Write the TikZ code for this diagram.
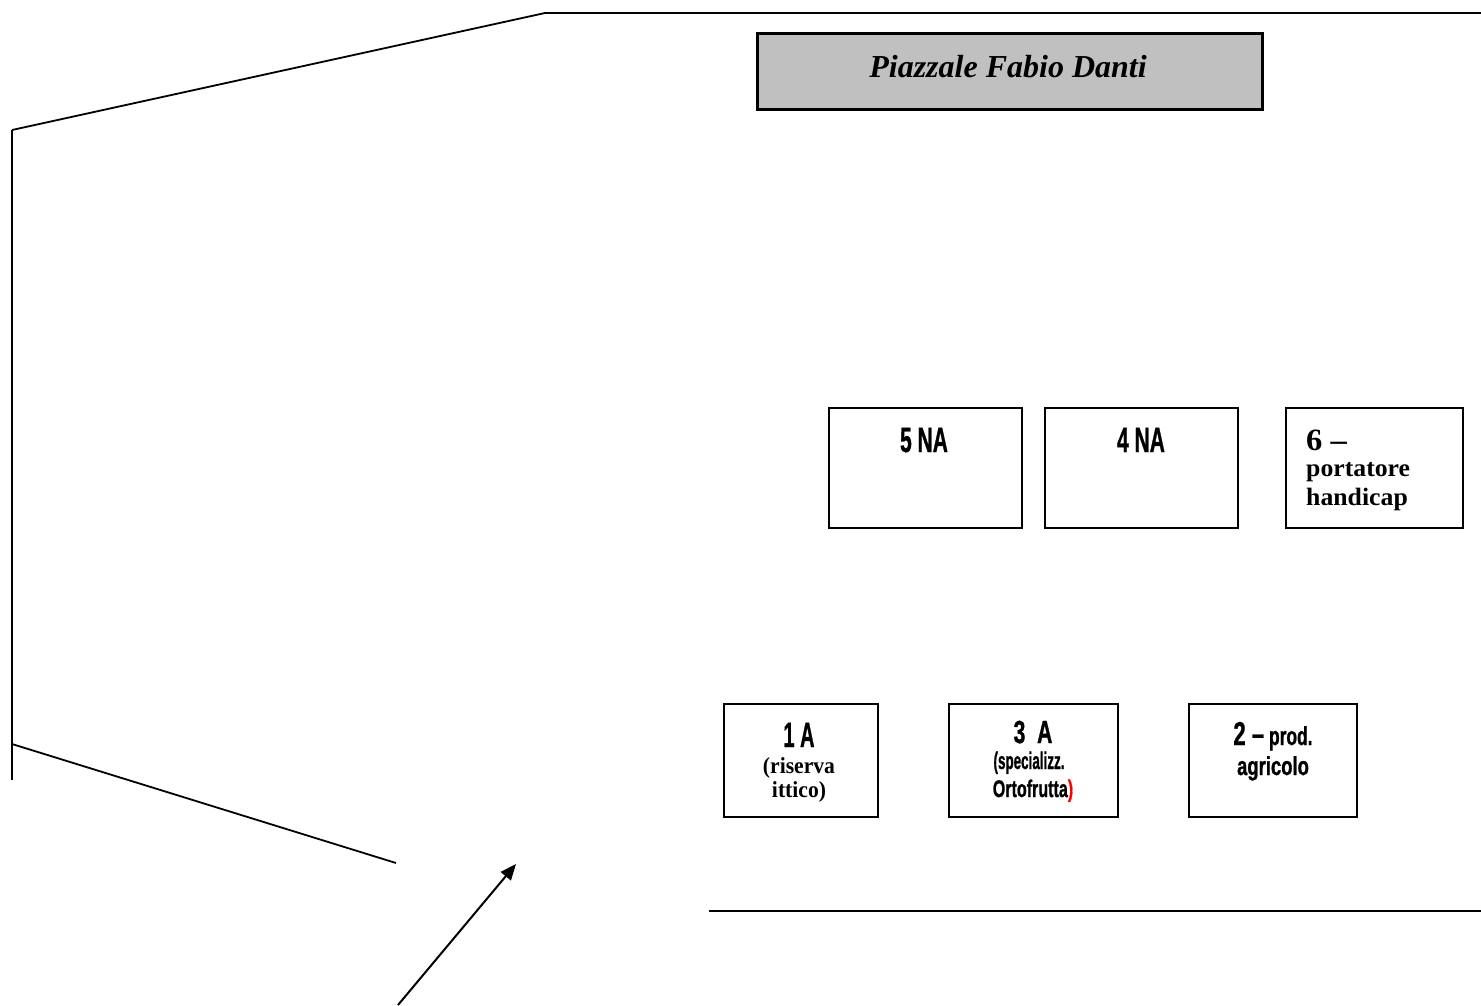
\documentclass[tikz,border=0pt]{standalone}
\usepackage{fontspec}
\usepackage{graphicx}
\setmainfont{Liberation Serif}
\newfontfamily\agency[BoldFeatures={FakeBold=1.2}]{Liberation Sans}
\newcommand\hx[2]{\scalebox{#1}[1]{#2}}
\usetikzlibrary{arrows.meta}
\definecolor{titlegray}{HTML}{C0C0C0}
\begin{document}
\begin{tikzpicture}[x=1pt,y=-1pt,
  wall/.style={line width=1.8pt},
  stall/.style={draw, line width=1.6pt, rectangle, inner sep=0pt, anchor=north west},
  lbl/.style={inner sep=0pt, anchor=base},
  lbll/.style={inner sep=0pt, anchor=base west},
  big/.style={font=\agency\bfseries\fontsize{35}{37}\selectfont},
  small/.style={font=\agency\bfseries\fontsize{26}{28}\selectfont},
  smaller/.style={font=\agency\bfseries\fontsize{24}{26}\selectfont},
  serif/.style={font=\bfseries\fontsize{25}{27}\selectfont},
]
\useasboundingbox (0,0) rectangle (1481,1005);
% outline lines
\coordinate (tl) at (12,130);
\coordinate (tk) at (545,13);
\coordinate (tr) at (1481,13);
\coordinate (lb) at (12,780);
\coordinate (lm) at (12,744);
\coordinate (le) at (396,863);
\coordinate (bl) at (709,911);
\coordinate (br) at (1481,911);
\coordinate (as) at (398,1005);
\coordinate (ae) at (516,864);
\draw[wall] (tl) -- (tk) -- (tr);
\draw[wall] (tl) -- (lb);
\draw[wall] (lm) -- (le);
\draw[wall] (bl) -- (br);
\draw[line width=2pt, -{Triangle[length=16pt,width=13pt]}] (as) -- (ae);
% title
\node[draw, line width=2.8pt, fill=titlegray, minimum width=505pt, minimum height=76pt, inner sep=0pt, anchor=north west] (title) at (756,32) {};
\node[lbl, font=\fontsize{32}{36}\selectfont\bfseries\itshape] (titletext) at (1008,77) {Piazzale Fabio Danti};
% upper boxes
\node[stall, minimum width=193pt, minimum height=120pt] (b5) at (828,407) {};
\node[stall, minimum width=193pt, minimum height=120pt] (b4) at (1044,407) {};
\node[stall, minimum width=177pt, minimum height=120pt] (b6) at (1285,407) {};
\node[lbl, big] (t5) at (924,452) {\hx{0.6}{5 NA}};
\node[lbl, big] (t4) at (1141,452) {\hx{0.6}{4 NA}};
\node[lbll, font=\bfseries\fontsize{31}{33}\selectfont] (t6a) at (1306,450) {\hx{1.05}{6 –}};
\node[lbll, serif] (t6b) at (1306,476) {\hx{1.03}{portatore}};
\node[lbll, serif] (t6c) at (1306,505) {\hx{1.03}{handicap}};
% lower boxes
\node[stall, minimum width=154pt, minimum height=113pt] (b1) at (723,703) {};
\node[stall, minimum width=169pt, minimum height=113pt] (b3) at (948,703) {};
\node[stall, minimum width=168pt, minimum height=113pt] (b2) at (1188,703) {};
\node[lbl, big] (t1a) at (799,747) {\hx{0.57}{1 A}};
\node[lbl, font=\bfseries\fontsize{23}{25}\selectfont] (t1b) at (799,773) {\hx{0.94}{(riserva}};
\node[lbl, font=\bfseries\fontsize{23}{25}\selectfont] (t1c) at (799,797) {\hx{0.94}{ittico)}};
\node[lbl, font=\agency\bfseries\fontsize{32}{34}\selectfont] (t3a) at (1033,743) {\hx{0.66}{3\ \ A}};
\node[lbl, smaller] (t3b) at (1029,769) {\hx{0.56}{(specializz.}};
\node[lbl, smaller] (t3c) at (1033,797) {\hx{0.67}{Ortofrutta\textcolor{red}{)}}};
\node[lbl, small] (t2a) at (1273,745) {\hx{0.67}{{\fontsize{33}{35}\selectfont 2 –} prod.}};
\node[lbl, small] (t2b) at (1273,775) {\hx{0.71}{agricolo}};
\end{tikzpicture}
\end{document}
